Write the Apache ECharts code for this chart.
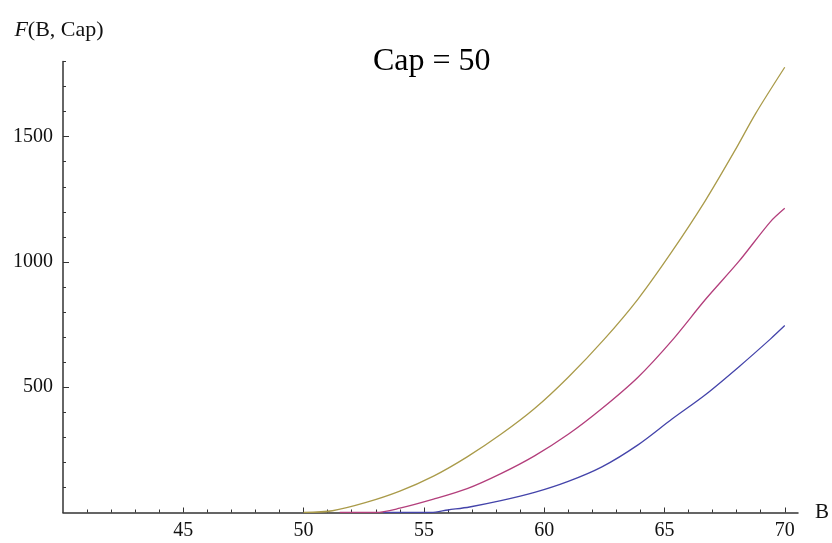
<!DOCTYPE html>
<html>
<head>
<meta charset="utf-8">
<script src="https://cdn.jsdelivr.net/npm/echarts@6/dist/echarts.min.js"></script>
<style>html,body{margin:0;padding:0;background:#fff}#c{width:832px;height:543px}</style>
</head>
<body>
<div id="c"></div>
<script>
// Data: [B, F(B, Cap)]
const yellowSeries = [[50.0,0],[51.2,7],[52.6,40],[54.0,85],[55.4,145],[56.8,222],[58.2,312],[59.6,415],[61.0,540],[62.5,692],[63.9,852],[65.3,1040],[66.7,1245],[67.9,1440],[68.8,1594],[70.0,1777]];
const pinkSeries = [[51.5,0],[53.0,0],[54.0,17],[55.4,53],[56.8,95],[58.2,155],[59.6,226],[61.0,312],[62.4,415],[63.9,540],[65.3,685],[66.7,850],[68.1,1003],[69.4,1160],[70.0,1214]];
const blueSeries = [[53.3,0],[55.3,0],[56.0,10],[56.9,22],[58.2,47],[59.6,80],[61.0,124],[62.4,182],[63.9,270],[65.3,372],[66.7,470],[68.1,582],[69.4,692],[70.0,746]];
const xMajorTicks = [45,50,55,60,65,70];
const xMinorTicks = [41,42,43,44,46,47,48,49,51,52,53,54,56,57,58,59,61,62,63,64,66,67,68,69];
const yMajorTicks = [500,1000,1500];
const yMinorTicks = [100,200,300,400,600,700,800,900,1100,1200,1300,1400,1600,1700,1800];
const titleText = 'Cap = 50';
const xName = 'B';

const axisColor = '#333';
const serif = '"Liberation Serif","DejaVu Serif",serif';
const chart = echarts.init(document.getElementById('c'), null, {renderer:'canvas'});
const X_MIN = 40, X_MAX = 70.55, Y_MIN = 0, Y_MAX = 1800;
const plain = v => String(v);
chart.setOption({
  animation:false,
  backgroundColor:'#fff',
  title:{text:titleText,left:373,top:46,padding:0,textStyle:{fontFamily:serif,fontSize:32,fontWeight:'normal',color:'#000'}},
  grid:{left:63,right:31,top:61.5,bottom:30.5,containLabel:false},
  xAxis:[
    {type:'value',min:X_MIN,max:X_MAX,name:xName,nameLocation:'end',nameGap:17,
     nameTextStyle:{fontFamily:serif,fontSize:21,color:'#111',verticalAlign:'middle'},
     axisLine:{show:true,lineStyle:{color:axisColor,width:1.5}},
     axisTick:{show:true,inside:true,length:5,customValues:xMajorTicks,lineStyle:{color:axisColor,width:1}},
     axisLabel:{customValues:xMajorTicks,formatter:plain,margin:8,fontFamily:serif,fontSize:20,color:'#111'},
     splitLine:{show:false}},
    {type:'value',min:X_MIN,max:X_MAX,position:'bottom',
     axisLine:{show:false},
     axisTick:{show:true,inside:true,length:3,customValues:xMinorTicks,lineStyle:{color:axisColor,width:1}},
     axisLabel:{show:false},splitLine:{show:false}}
  ],
  yAxis:[
    {type:'value',min:Y_MIN,max:Y_MAX,
     name:'{i|F}(B, Cap)',nameLocation:'end',nameGap:20,
     nameTextStyle:{fontFamily:serif,fontSize:22,color:'#111',align:'center',padding:[0,8,0,0],
       rich:{i:{fontFamily:serif,fontSize:22,fontStyle:'italic',color:'#111'}}},
     axisLine:{show:true,onZero:false,lineStyle:{color:axisColor,width:1.5}},
     axisTick:{show:true,inside:true,length:6,customValues:yMajorTicks,lineStyle:{color:axisColor,width:1}},
     axisLabel:{customValues:yMajorTicks,formatter:plain,margin:10,fontFamily:serif,fontSize:20,color:'#111'},
     splitLine:{show:false}},
    {type:'value',min:Y_MIN,max:Y_MAX,position:'left',
     axisLine:{show:false},
     axisTick:{show:true,inside:true,length:3,customValues:yMinorTicks,lineStyle:{color:axisColor,width:1}},
     axisLabel:{show:false},splitLine:{show:false}}
  ],
  series:[
    {type:'line',data:blueSeries,showSymbol:false,smooth:0.3,lineStyle:{color:'#4444aa',width:1.3},z:3},
    {type:'line',data:pinkSeries,showSymbol:false,smooth:0.3,lineStyle:{color:'#b33f7c',width:1.3},z:3},
    {type:'line',data:yellowSeries,showSymbol:false,smooth:0.3,lineStyle:{color:'#aa9b4a',width:1.3},z:3}
  ]
});
</script>
</body>
</html>
